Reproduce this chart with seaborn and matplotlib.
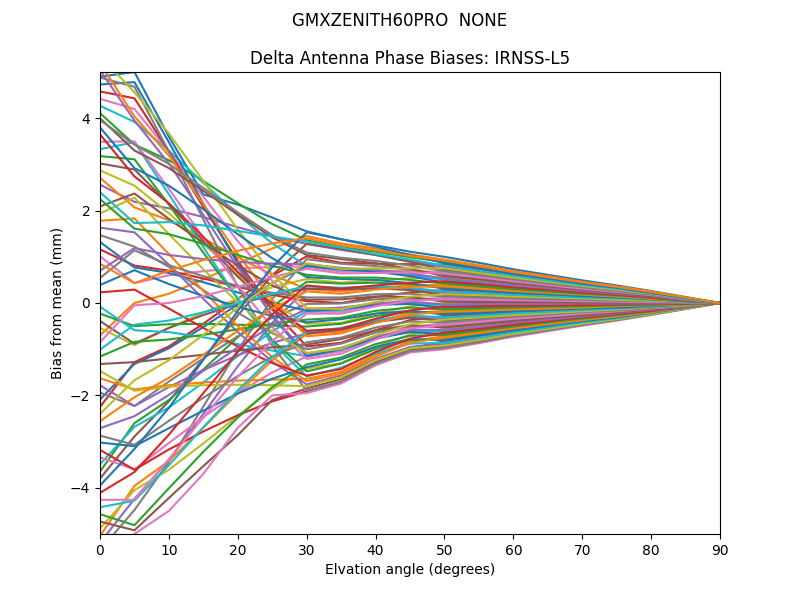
import pandas as pd
import matplotlib
matplotlib.use("Agg")
import matplotlib.pyplot as plt
import seaborn as sns

# 고도각 (degrees)
elevation = [0, 5, 10, 15, 20, 25, 30, 35, 40, 45, 50, 55, 60, 65, 70, 75, 80, 85, 90]

# 방위각 0..355 (5도 간격)
azimuth = list(range(0, 360, 5))

# 방위각별 바이어스 (mm), 그림에서 읽은 추정값
bias_az000 = [
    [4.90, 5.00, 3.60, 2.35, 2.13, 1.85, 1.55, 1.38, 1.25, 1.11, 1.00, .87, .73, .61, .49, .38, .26, .13, 0],
    [-.70, .00, .20, .51, .85, 1.18, 1.45, 1.29, 1.18, 1.05, .94, .82, .69, .58, .46, .36, .25, .12, 0],
    [4.11, 3.43, 3.09, 2.64, 2.16, 1.71, 1.36, 1.21, 1.11, .99, .89, .77, .65, .54, .44, .34, .23, .12, 0],
    [-2.25, -1.28, -.94, -.45, .09, .59, 1.01, .87, .85, .84, .83, .72, .61, .51, .41, .32, .22, .11, 0],
    [2.56, 2.19, 2.05, 1.86, 1.64, 1.44, 1.28, 1.15, 1.04, .91, .78, .68, .57, .47, .38, .30, .20, .10, 0],
    [-3.80, -2.89, -2.13, -1.21, -.27, .60, 1.28, 1.17, 1.04, .89, .72, .63, .53, .44, .35, .27, .19, .09, 0],
    [1.01, .43, .60, .69, .75, .78, .79, .68, .69, .69, .67, .58, .49, .41, .33, .25, .17, .09, 0],
    [-5.35, -4.48, -3.44, -2.24, -1.02, .09, .95, .85, .80, .72, .61, .53, .45, .37, .30, .23, .16, .08, 0],
    [-.54, -.91, -.54, -.21, .09, .34, .52, .44, .49, .54, .56, .48, .41, .34, .27, .21, .14, .07, 0],
    [4.27, 3.92, 3.30, 2.60, 1.91, 1.29, .80, .72, .68, .61, .50, .44, .37, .31, .25, .19, .13, .07, 0],
    [-2.09, -1.32, -.98, -.52, -.03, .43, .80, .73, .68, .58, .44, .39, .32, .27, .22, .17, .12, .06, 0],
    [2.71, 2.07, 1.79, 1.40, .99, .61, .30, .25, .33, .38, .39, .34, .28, .24, .19, .15, .10, .05, 0],
    [-3.65, -2.60, -2.10, -1.44, -.74, -.08, .46, .42, .44, .41, .33, .29, .24, .20, .16, .13, .09, .04, 0],
    [1.16, .81, .70, .53, .35, .18, .04, .00, .13, .23, .28, .24, .20, .17, .14, .11, .07, .04, 0],
    [-5.19, -4.24, -3.40, -2.40, -1.37, -.43, .31, .29, .32, .30, .22, .19, .16, .14, .11, .08, .06, .03, 0],
    [-.39, -.88, -.54, -.26, -.02, .17, .31, .30, .32, .28, .17, .15, .12, .10, .08, .06, .04, .02, 0],
    [4.42, 4.20, 3.28, 2.30, 1.34, .48, -.19, -.19, -.04, .08, .11, .10, .08, .07, .05, .04, .03, .01, 0],
    [-1.94, -2.23, -1.70, -1.20, -.72, -.32, -.02, -.01, .08, .11, .06, .05, .04, .03, .03, .02, .01, .01, 0],
]

bias_az090 = [
    [2.87, 2.54, 1.94, 1.28, .61, .01, -.45, -.43, -.23, -.07, 0, 0, 0, 0, 0, 0, 0, 0, 0],
    [-3.49, -2.68, -2.26, -1.72, -1.15, -.61, -.18, -.15, -.04, .00, -.06, -.05, -.04, -.03, -.03, -.02, -.01, -.01, 0],
    [1.32, .77, .65, .45, .23, .01, -.17, -.13, -.04, -.02, -.11, -.10, -.08, -.07, -.05, -.04, -.03, -.01, 0],
    [-5.04, -3.96, -3.42, -2.70, -1.95, -1.24, -.67, -.62, -.40, -.22, -.17, -.15, -.12, -.10, -.08, -.06, -.04, -.02, 0],
    [-.23, -.50, -.46, -.45, -.47, -.49, -.51, -.45, -.28, -.19, -.22, -.19, -.16, -.14, -.11, -.08, -.06, -.03, 0],
    [4.58, 4.43, 3.28, 2.08, .91, -.14, -.94, -.86, -.59, -.37, -.28, -.24, -.20, -.17, -.14, -.11, -.07, -.04, 0],
    [-1.78, -2.23, -1.82, -1.45, -1.13, -.86, -.66, -.58, -.40, -.30, -.33, -.29, -.24, -.20, -.16, -.13, -.09, -.04, 0],
    [3.02, 2.89, 2.14, 1.34, .57, -.12, -.66, -.57, -.41, -.32, -.39, -.34, -.28, -.24, -.19, -.15, -.10, -.05, 0],
    [-3.34, -3.60, -3.03, -2.47, -1.95, -1.50, -1.16, -1.05, -.76, -.52, -.44, -.39, -.32, -.27, -.22, -.17, -.12, -.06, 0],
    [1.47, 1.22, .78, .28, -.21, -.65, -1.00, -.88, -.64, -.50, -.50, -.44, -.37, -.31, -.25, -.19, -.13, -.07, 0],
    [-4.88, -4.05, -3.61, -3.04, -2.44, -1.87, -1.42, -1.30, -.95, -.68, -.56, -.48, -.41, -.34, -.27, -.21, -.14, -.07, 0],
    [-.08, -.59, -.63, -.74, -.89, -1.03, -1.15, -1.01, -.76, -.61, -.61, -.53, -.45, -.37, -.30, -.23, -.16, -.08, 0],
    [4.73, 4.78, 3.48, 2.15, .85, -.29, -1.15, -1.00, -.77, -.63, -.67, -.58, -.49, -.41, -.33, -.25, -.17, -.09, 0],
    [-1.63, -1.87, -1.78, -1.72, -1.68, -1.66, -1.64, -1.49, -1.12, -.83, -.72, -.63, -.53, -.44, -.35, -.27, -.19, -.09, 0],
    [3.18, 3.11, 2.13, 1.09, .09, -.80, -1.48, -1.31, -1.00, -.80, -.78, -.68, -.57, -.47, -.38, -.30, -.20, -.10, 0],
    [-3.18, -3.61, -3.17, -2.78, -2.43, -2.13, -1.91, -1.73, -1.31, -.98, -.83, -.72, -.61, -.51, -.41, -.32, -.22, -.11, 0],
    [1.63, 1.53, .83, .09, -.63, -1.27, -1.76, -1.57, -1.21, -.95, -.89, -.77, -.65, -.54, -.44, -.34, -.23, -.12, 0],
    [-4.73, -4.92, -4.22, -3.53, -2.86, -2.10, -1.85, -1.65, -1.28, -1.01, -.94, -.82, -.69, -.58, -.46, -.36, -.25, -.12, 0],
]

bias_az180 = [
    [-5.40, -5.00, -4.50, -3.70, -2.70, -2.00, -1.95, -1.74, -1.35, -1.07, -1.00, -.87, -.73, -.61, -.49, -.38, -.26, -.13, 0],
    [4.88, 4.68, 3.28, 1.81, .36, -.92, -1.90, -1.70, -1.31, -1.04, -.97, -.85, -.71, -.59, -.48, -.37, -.25, -.13, 0],
    [-1.47, -1.90, -1.81, -1.78, -1.77, -1.78, -1.80, -1.61, -1.24, -.98, -.92, -.80, -.67, -.56, -.45, -.35, -.24, -.12, 0],
    [3.33, 3.48, 2.35, 1.21, .10, -.86, -1.59, -1.40, -1.09, -.88, -.86, -.75, -.63, -.53, -.42, -.33, -.22, -.11, 0],
    [-3.02, -3.10, -2.71, -2.33, -1.96, -1.64, -1.39, -1.22, -.95, -.78, -.81, -.70, -.59, -.49, -.39, -.31, -.21, -.10, 0],
    [1.78, 1.83, 1.06, .26, -.50, -1.17, -1.69, -1.53, -1.16, -.86, -.75, -.65, -.55, -.46, -.37, -.29, -.20, -.10, 0],
    [-4.57, -4.81, -4.01, -3.22, -2.48, -1.82, -1.33, -1.18, -.89, -.71, -.69, -.60, -.51, -.42, -.34, -.26, -.18, -.09, 0],
    [.23, .29, -.12, -.54, -.94, -1.30, -1.57, -1.43, -1.06, -.77, -.64, -.56, -.47, -.39, -.31, -.24, -.17, -.08, 0],
    [5.04, 3.95, 3.02, 1.91, .77, -.27, -1.10, -.97, -.73, -.58, -.58, -.51, -.43, -.36, -.29, -.22, -.15, -.08, 0],
    [-1.32, -1.28, -1.20, -1.12, -1.03, -.96, -.90, -.78, -.59, -.48, -.53, -.46, -.39, -.32, -.26, -.20, -.14, -.07, 0],
    [3.49, 3.50, 2.47, 1.41, .38, -.52, -1.21, -1.10, -.79, -.55, -.47, -.41, -.34, -.29, -.23, -.18, -.12, -.06, 0],
    [-2.87, -3.07, -2.55, -2.05, -1.58, -1.16, -.85, -.75, -.53, -.40, -.42, -.36, -.30, -.25, -.20, -.16, -.11, -.05, 0],
    [1.94, 2.28, 1.49, .73, .01, -.62, -1.08, -.99, -.70, -.46, -.36, -.31, -.26, -.22, -.18, -.14, -.09, -.05, 0],
    [-4.42, -4.28, -3.51, -2.69, -1.89, -1.17, -.62, -.54, -.37, -.27, -.31, -.27, -.22, -.19, -.15, -.12, -.08, -.04, 0],
    [.39, .71, .41, .15, -.08, -.28, -.42, -.35, -.23, -.17, -.25, -.22, -.18, -.15, -.12, -.10, -.07, -.03, 0],
    [5.19, 4.04, 3.19, 2.14, 1.06, .07, -.72, -.66, -.43, -.25, -.19, -.17, -.14, -.12, -.10, -.07, -.05, -.03, 0],
    [-1.16, -.84, -.79, -.69, -.57, -.45, -.36, -.32, -.17, -.10, -.14, -.12, -.10, -.08, -.07, -.05, -.04, -.02, 0],
    [3.65, 2.74, 2.16, 1.43, .67, -.04, -.60, -.56, -.34, -.16, -.08, -.07, -.06, -.05, -.04, -.03, -.02, -.01, 0],
]

bias_az270 = [
    [-2.71, -2.45, -1.99, -1.47, -.96, -.49, -.13, -.10, -.01, .03, -.03, -.02, -.02, -.02, -.01, -.01, -.01, 0, 0],
    [2.09, 2.37, 1.82, 1.30, .81, .38, .07, .08, .14, .13, .03, .02, .02, .02, .01, .01, .01, 0, 0],
    [-4.26, -4.26, -3.38, -2.48, -1.60, -.82, -.23, -.23, -.07, .05, .08, .07, .06, .05, .04, .03, .02, .01, 0],
    [.54, 1.14, .82, .58, .37, .22, .12, .12, .19, .20, .14, .12, .10, .08, .07, .05, .04, .02, 0],
    [5.35, 4.56, 3.67, 2.64, 1.59, .63, -.11, -.13, .02, .14, .19, .17, .14, .12, .10, .07, .05, .03, 0],
    [-1.01, -.47, -.38, -.20, .00, .20, .36, .33, .36, .33, .25, .22, .18, .15, .12, .10, .07, .03, 0],
    [3.80, 2.92, 2.54, 2.03, 1.49, .97, .56, .52, .50, .43, .31, .27, .22, .19, .15, .12, .08, .04, 0],
    [-2.56, -2.04, -1.62, -1.12, -.60, -.12, .25, .20, .29, .35, .36, .31, .26, .22, .18, .14, .09, .05, 0],
    [2.25, 1.61, 1.49, 1.28, 1.04, .81, .61, .55, .55, .50, .42, .36, .30, .25, .20, .16, .11, .05, 0],
    [-4.11, -3.66, -2.85, -1.95, -1.06, -.25, .38, .31, .38, .44, .47, .41, .34, .29, .23, .18, .12, .06, 0],
    [.70, 1.19, 1.04, .95, .89, .85, .84, .76, .72, .64, .53, .46, .39, .32, .26, .20, .14, .07, 0],
    [4.00, 3.30, 2.92, 2.43, 1.91, 1.42, 1.04, .95, .86, .74, .58, .51, .43, .36, .29, .22, .15, .08, 0],
    [-.85, -.05, .00, .15, .35, .56, .74, .64, .65, .66, .64, .56, .47, .39, .31, .24, .17, .08, 0],
    [3.96, 3.43, 3.01, 2.49, 1.96, 1.47, 1.09, .98, .91, .81, .69, .60, .51, .42, .34, .26, .18, .09, 0],
    [-2.40, -1.67, -1.24, -.69, -.10, .43, .86, .74, .75, .75, .75, .65, .55, .46, .37, .29, .20, .10, 0],
    [2.40, 1.73, 1.75, 1.68, 1.56, 1.44, 1.33, 1.20, 1.06, .94, .81, .70, .59, .49, .39, .31, .21, .10, 0],
    [-3.95, -3.16, -2.27, -1.23, -.17, .78, 1.53, 1.38, 1.22, 1.04, .86, .75, .63, .53, .42, .33, .22, .11, 0],
    [.85, .43, .70, .93, 1.13, 1.29, 1.40, 1.25, 1.14, 1.02, .92, .80, .67, .56, .45, .35, .24, .12, 0],
]

# long-form 데이터프레임으로 변환
rows = []
all_bias = bias_az000 + bias_az090 + bias_az180 + bias_az270
for az, values in zip(azimuth, all_bias):
    for el, b in zip(elevation, values):
        rows.append({"azimuth": str(az), "elevation": el, "bias": b})
df = pd.DataFrame(rows)

# tab10 색상을 방위각 수만큼 반복
tab10 = sns.color_palette("tab10")
palette = [tab10[i % 10] for i in range(len(azimuth))]

fig = plt.figure(figsize=(8, 6), dpi=100)
ax = fig.add_subplot(111)

sns.lineplot(
    data=df,
    x="elevation",
    y="bias",
    hue="azimuth",
    palette=palette,
    legend=False,
    linewidth=1.5,
    ax=ax
)

ax.set_xlim(0, 90)
ax.set_ylim(-5, 5)
ax.set_title("Delta Antenna Phase Biases: IRNSS-L5")
ax.set_xlabel("Elvation angle (degrees)")
ax.set_ylabel("Bias from mean (mm)")
fig.suptitle("GMXZENITH60PRO  NONE")

fig.savefig("out.png", dpi=100)
